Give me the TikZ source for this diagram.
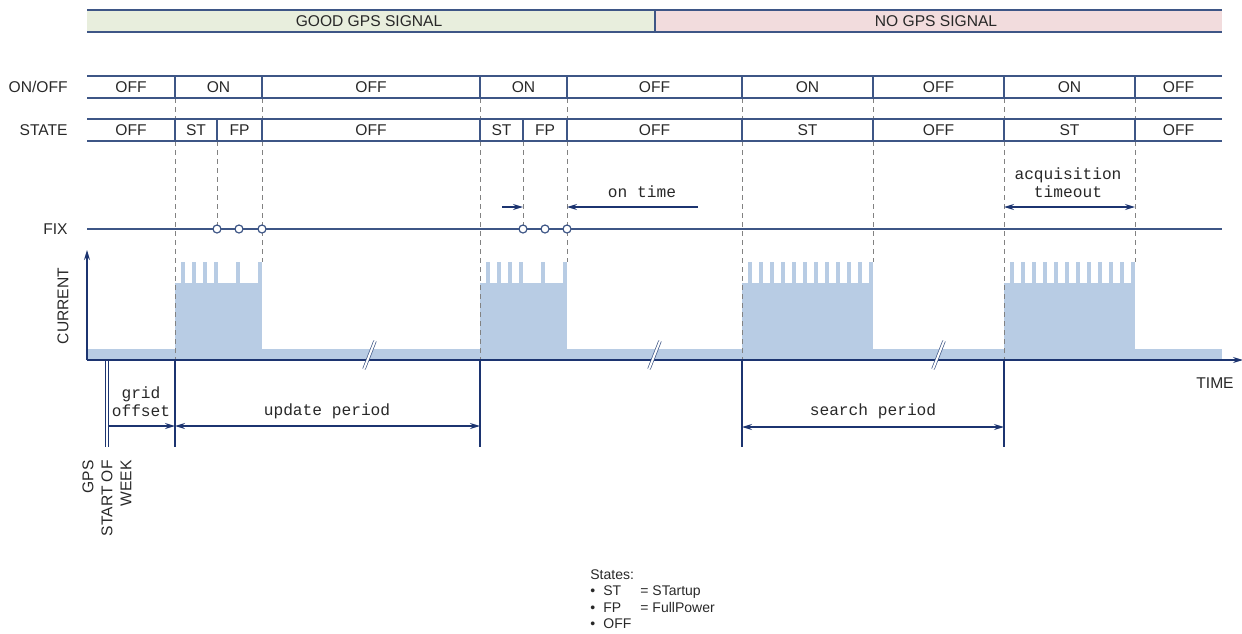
\documentclass[tikz,border=0pt]{standalone}
\usepackage{fontspec}
\setmainfont{Liberation Sans}
\setmonofont{Liberation Mono}
\usetikzlibrary{arrows.meta}

\definecolor{lineblue}{RGB}{62,86,134}
\definecolor{arrowblue}{RGB}{28,52,112}
\definecolor{curblue}{RGB}{184,204,228}
\definecolor{goodgreen}{RGB}{232,238,221}
\definecolor{nored}{RGB}{242,220,221}
\definecolor{dashgray}{RGB}{130,130,130}
\definecolor{textgray}{RGB}{40,40,40}

\begin{document}
\begin{tikzpicture}[x=0.5pt, y=-0.5pt,
    lbl/.style={font=\fontsize{7.8}{9.5}\selectfont, text=textgray, inner sep=1pt},
    mono/.style={font=\ttfamily\fontsize{8.1}{9}\selectfont, text=textgray, inner sep=1pt},
    rowline/.style={lineblue, line width=0.6pt},
    guide/.style={dashgray, line width=0.5pt, dash pattern=on 2.5pt off 2pt},
    dimline/.style={arrowblue, line width=0.6pt},
    dimtip/.style={-{Stealth[length=5pt,width=3pt]}},
    dimboth/.style={{Stealth[length=5pt,width=3pt]}-{Stealth[length=5pt,width=3pt]}}]
    \useasboundingbox (0,0) rectangle (1242,633);

    % Signal bar
    \fill[goodgreen] (87,10) rectangle (655,32);
    \fill[nored] (655,10) rectangle (1222,32);
    \draw[rowline] (87,10) -- (1222,10) (87,32) -- (1222,32) (655,10) -- (655,32);
    \node[lbl] (good) at (369,21) {GOOD GPS SIGNAL};
    \node[lbl] (nogps) at (936,21) {NO GPS SIGNAL};

    % Current
    \fill[curblue] (87,349) rectangle (1222,360);
    \foreach \a/\b in {175/262,480/567,742/873,1004/1135}
        \fill[curblue] (\a,283) rectangle (\b,360);
    \foreach \s in {175,480}
        \foreach \o in {8,19,30,41,63,85}
            \fill[curblue] (\s+\o-2,262) rectangle (\s+\o+2,283);
    \foreach \s in {742,1004}
        \foreach \k in {0,...,11}
            \fill[curblue] (\s+8+11*\k-2,262) rectangle (\s+8+11*\k+2,283);

    % Guides
    \foreach \x in {175,262,480,567,742,873,1004,1135}
        \draw[guide] (\x,98) -- (\x,119);
    \foreach \x in {175,480,742,1004}
        \draw[guide] (\x,141) -- (\x,360);
    \foreach \x in {217,523}
        \draw[guide] (\x,141) -- (\x,225);
    \foreach \x in {262,567,873,1135}
        \draw[guide] (\x,141) -- (\x,262);

    % ON/OFF row
    \node[lbl, anchor=east] (onofflbl) at (70,87) {ON/OFF};
    \draw[rowline] (87,76) -- (1222,76) (87,98) -- (1222,98);
    \foreach \x in {175,262,480,567,742,873,1004,1135}
        \draw[rowline] (\x,76) -- (\x,98);
    \foreach \a/\b/\t [count=\i] in {87/175/OFF,175/262/ON,262/480/OFF,480/567/ON,567/742/OFF,
        742/873/ON,873/1004/OFF,1004/1135/ON,1135/1222/OFF}
        \node[lbl] (onoff\i) at ({(\a+\b)/2},87) {\t};

    % STATE row
    \node[lbl, anchor=east] (statelbl) at (70,130) {STATE};
    \draw[rowline] (87,119) -- (1222,119) (87,141) -- (1222,141);
    \foreach \x in {175,217,262,480,523,567,742,873,1004,1135}
        \draw[rowline] (\x,119) -- (\x,141);
    \foreach \a/\b/\t [count=\i] in {87/175/OFF,175/217/ST,217/262/FP,262/480/OFF,480/523/ST,
        523/567/FP,567/742/OFF,742/873/ST,873/1004/OFF,1004/1135/ST,1135/1222/OFF}
        \node[lbl] (state\i) at ({(\a+\b)/2},130) {\t};

    % FIX
    \node[lbl, anchor=east] (fixlbl) at (70,229) {FIX};
    \draw[rowline] (87,229) -- (1222,229);
    \foreach \x in {217,239,262,523,545,567}
        \draw[rowline, fill=white] (\x,229) circle (2pt);

    % on time
    \coordinate (ontimeA) at (502,207);
    \coordinate (ontimeB) at (523,207);
    \coordinate (ontimeC) at (567,207);
    \coordinate (ontimeD) at (698,207);
    \draw[dimline, dimtip] (ontimeA) -- (ontimeB);
    \draw[dimline, dimtip] (ontimeD) -- (ontimeC);
    \node[mono] (ontime) at (642,192) {on time};

    % acquisition timeout
    \coordinate (acqA) at (1004,207);
    \coordinate (acqB) at (1135,207);
    \draw[dimline, dimboth] (acqA) -- (acqB);
    \node[mono, align=center] (acq) at (1068,183) {acquisition\\timeout};

    % Axes
    \coordinate (origin) at (87,360);
    \coordinate (ytop) at (87,250);
    \coordinate (xend) at (1243,360);
    \draw[dimline, dimtip] (origin) -- (ytop);
    \draw[dimline, dimtip] (origin) -- (xend);
    \node[lbl, rotate=90] (current) at (63,306) {CURRENT};
    \node[lbl] (time) at (1215,383) {TIME};

    % Breaks
    \foreach \x in {370,655,939}
        \draw[lineblue, line width=0.35pt, double=white, double distance=1pt] (\x-6,369) -- (\x+5,341);

    % Periods
    \draw[dimline] (105.5,360) -- (105.5,447) (108.5,360) -- (108.5,447);
    \foreach \x in {175,480,742,1004}
        \draw[dimline] (\x,360) -- (\x,447);
    \coordinate (weekstart) at (108.5,426);
    \coordinate (upd1) at (175,426);
    \coordinate (upd2) at (480,426);
    \coordinate (srch1) at (742,427);
    \coordinate (srch2) at (1004,427);
    \draw[dimline, dimtip] (weekstart) -- (upd1);
    \draw[dimline, dimboth] (upd1) -- (upd2);
    \draw[dimline, dimboth] (srch1) -- (srch2);
    \node[mono, align=center] (grid) at (141,402) {grid\\offset};
    \node[mono] (update) at (327,411) {update period};
    \node[mono] (search) at (873,411) {search period};
    \node[lbl, rotate=90, anchor=east, align=right, inner sep=0pt] (gpsweek) at (107,460)
        {GPS\\START OF\\WEEK};

    % Legend
    \node[font=\fontsize{7}{8.25}\selectfont, text=textgray, anchor=north west, align=left,
        inner sep=0pt] (states) at (590,569)
        {States:\\
         \makebox[6.5pt][l]{\textbullet}\makebox[18.5pt][l]{ST}= STartup\\
         \makebox[6.5pt][l]{\textbullet}\makebox[18.5pt][l]{FP}= FullPower\\
         \makebox[6.5pt][l]{\textbullet}OFF};
\end{tikzpicture}
\end{document}
